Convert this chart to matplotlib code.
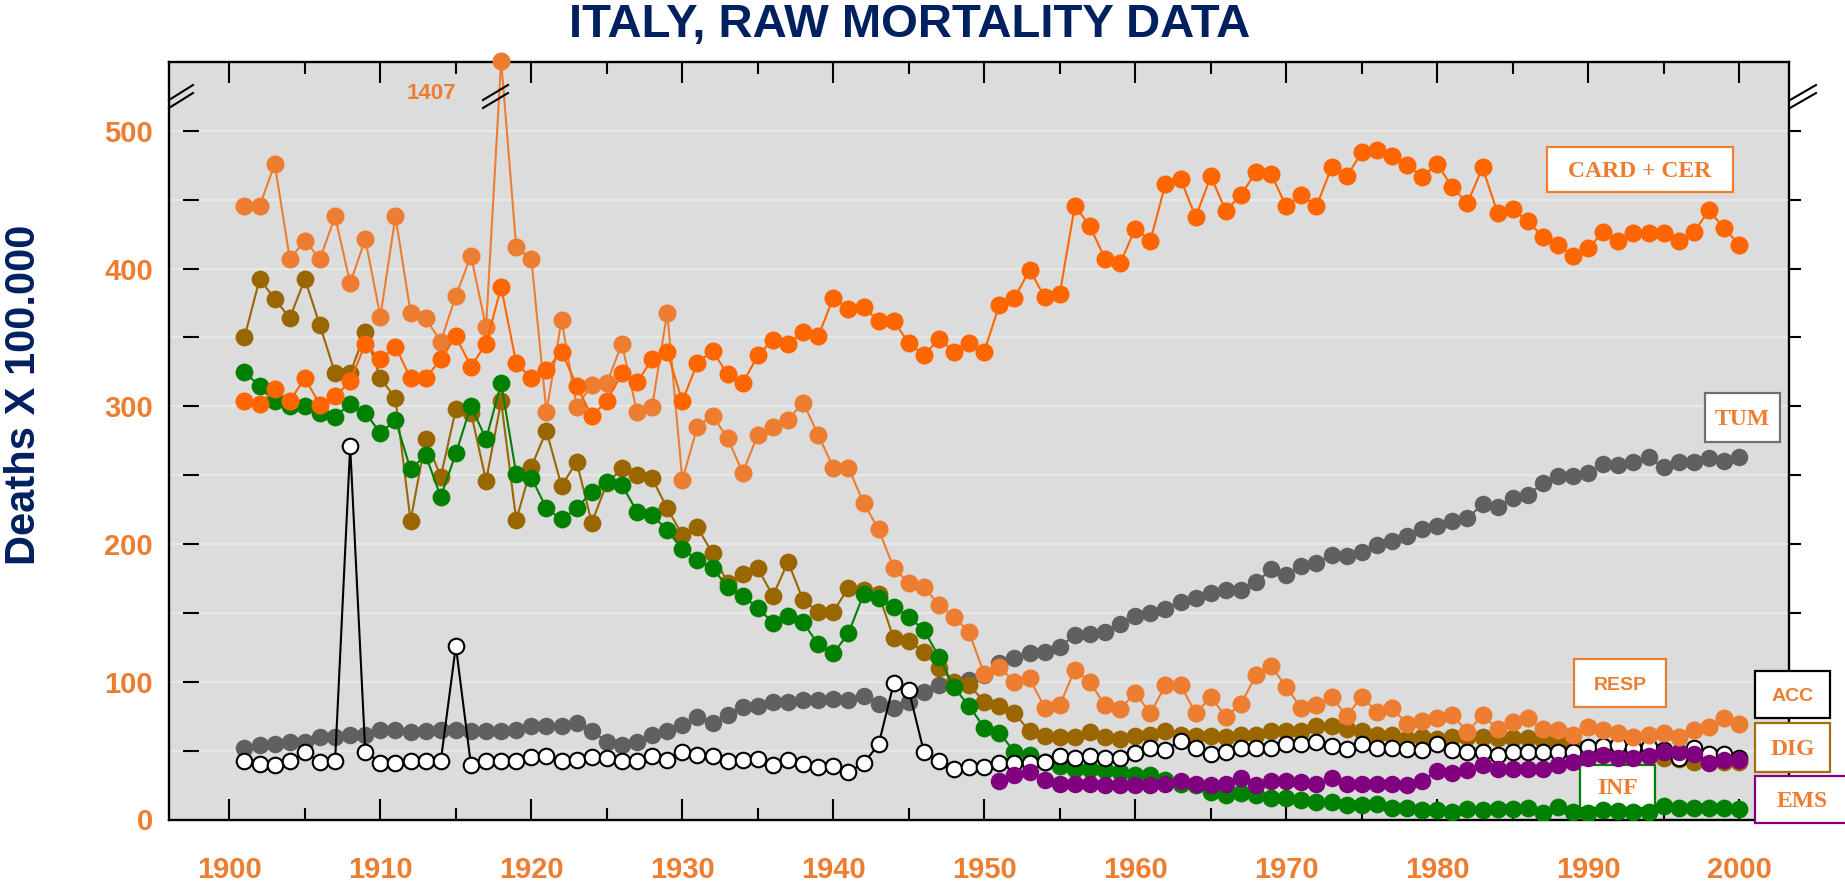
import numpy as np
import matplotlib
matplotlib.use('Agg')
import matplotlib.pyplot as plt
from matplotlib.patches import Rectangle
from matplotlib.lines import Line2D

# ---------------- data ----------------
years = list(range(1901, 2001))
ems_years = list(range(1951, 2001))

card_cer = [303.5, 301.6, 312.5, 304.0, 320.4, 301.1, 307.2, 318.1, 345.4, 334.2,
            343.4, 320.4, 320.4, 334.2, 350.7, 328.9, 345.4, 386.5, 331.3, 320.4,
            326.5, 339.8, 315.1, 293.0,
            303.9, 324.0, 317.5, 334.2, 339.8, 303.5, 331.8, 340.3, 323.3, 316.8,
            336.9, 348.3, 345.4, 353.8, 350.7, 379.0, 370.6, 371.8, 362.1, 362.1,
            345.9, 337.4, 348.8, 339.8, 346.3, 339.8,
            373.7, 378.5, 399.1, 379.3, 381.7, 445.8, 430.6, 407.1, 403.9, 428.9,
            420.2, 461.6, 465.2, 437.4, 466.9, 442.0, 453.6, 470.1, 468.6, 445.2,
            453.6, 445.2, 473.4, 466.9, 484.3, 486.2,
            481.4, 475.4, 466.5, 476.1, 458.9, 447.5, 473.4, 440.4, 443.3, 434.2,
            423.3, 417.3, 409.3, 414.9, 426.5, 419.7, 425.8, 425.8, 425.8, 419.7,
            426.5, 442.2, 429.4, 417.3]

resp = [445.8, 445.1, 476.1, 407.1, 420.2, 407.1, 437.9, 389.4, 421.4, 365.2,
        437.9, 368.1, 363.8, 347.0, 380.2, 409.3, 357.5, 1407, 415.4, 406.9,
        295.7, 362.8, 299.8, 315.5,
        316.8, 345.4, 295.7, 299.8, 368.1, 246.6, 285.3, 293.3, 276.8, 251.9,
        279.3, 285.3, 290.2, 302.7, 279.3, 255.5, 255.5,
        230.0, 210.6, 182.8, 171.4, 169.0, 155.7, 147.2, 135.8, 105.6, 110.9,
        99.5, 102.4, 81.3, 83.0, 108.9, 99.5, 83.0, 79.9, 92.2, 77.0,
        97.6, 97.6, 77.0, 89.1, 74.6, 83.8, 104.8, 111.4, 96.4, 80.6,
        83.0, 89.1, 75.1, 89.1, 78.2, 80.6,
        69.7, 71.7, 73.8, 75.8, 63.7, 75.8, 65.4, 70.5, 73.4, 65.4,
        64.9, 61.3, 67.3, 64.9, 62.5, 60.0, 61.3, 62.5, 60.0, 64.9,
        67.3, 73.4, 69.7]

dig = [350.0, 392.4, 378.1, 364.0, 392.4, 358.7, 324.0, 324.0, 353.6, 320.4,
       305.9, 216.9, 276.1, 248.9, 297.9, 295.5, 246.0, 303.5, 217.4, 256.1,
       282.2, 242.1, 259.8, 215.5,
       244.0, 254.9, 250.1, 247.7, 225.9, 206.5, 212.1, 193.2, 172.0, 178.2,
       182.3, 162.4, 187.1, 159.3, 150.8, 150.8, 168.3, 166.6, 163.7, 131.5,
       129.5, 121.8, 109.7, 100.0, 97.6, 85.5, 82.3, 77.0, 64.2,
       60.8, 60.0, 60.0, 63.7, 59.6, 58.8, 60.5, 61.7, 64.2, 61.3,
       60.5, 60.5, 60.0, 61.3, 61.7, 64.2, 64.2, 64.2, 67.8, 67.8,
       65.4, 64.2, 61.7, 61.3, 58.8, 60.0, 58.8, 60.0,
       60.0, 60.0, 59.0, 59.0, 59.0, 58.0, 56.0, 55.0, 52.0, 50.0,
       49.0, 48.0, 47.0, 45.0, 44.0, 42.0, 42.0, 42.0, 42.0]

inf = [325.2, 314.4, 303.5, 299.9, 300.4, 295.0, 292.6, 301.6, 295.5, 280.5,
       290.2, 254.2, 264.6, 234.3, 265.8, 300.4, 276.1, 316.8, 250.8, 248.2,
       225.9, 217.9, 225.9, 238.0,
       245.2, 242.8, 223.5, 221.0, 210.1, 196.1, 188.4, 182.3, 169.0, 162.4,
       153.7, 142.8, 147.9, 143.1, 127.1, 120.6, 135.1, 163.4, 160.5, 154.5,
       147.2, 137.5, 118.1, 95.9, 82.3, 66.6, 62.9, 49.1, 46.7,
       41.9, 38.7, 37.0, 37.0, 35.8, 34.6, 32.2, 32.2, 28.6, 26.1,
       24.9, 20.1, 17.7, 18.9, 17.7, 15.3, 15.3, 14.0, 12.8, 12.8,
       10.4, 10.4, 11.6, 8.0, 8.0, 6.8, 6.8, 5.6,
       7.3, 6.8, 7.3, 7.3, 8.0, 4.4, 9.2, 5.6, 4.8, 6.8,
       6.3, 5.6, 5.6, 9.7, 8.0, 8.0, 8.0, 8.0, 7.3]

tum = [52.1, 54.0, 54.7, 56.4, 56.4, 59.6, 59.6, 61.7, 61.3, 64.9,
       64.9, 63.7, 64.4, 64.9, 64.9, 64.2, 64.2, 64.2, 64.9, 67.8,
       67.8, 67.8, 70.2, 64.2,
       56.4, 54.0, 56.4, 61.3, 64.2, 68.5, 74.6, 70.2, 75.8, 81.8,
       82.3, 85.0, 85.0, 86.7, 86.7, 87.4, 86.7, 89.6, 83.8, 80.6,
       85.5, 92.7, 97.6, 97.6, 101.2, 105.0,
       113.3, 116.9, 120.6, 121.8, 125.4, 133.9, 134.4, 136.3, 141.9, 147.7,
       150.1, 152.5, 158.1, 161.0, 164.6, 166.6, 166.6, 172.1, 181.6, 177.5,
       184.2, 186.4, 192.0, 191.3, 194.4, 199.2, 202.4, 205.8, 210.7, 213.2,
       216.5,
       218.6, 229.0, 227.1, 233.1, 235.6, 244.0, 249.4, 249.4, 251.8, 258.1,
       257.3, 259.8, 262.9, 255.7, 259.8, 259.8, 262.2, 260.5, 263.4]

acc = [42.4, 40.2, 39.5, 42.4, 48.7, 41.9, 42.4, 271.0, 49.1, 41.2,
       41.2, 42.4, 42.4, 42.4, 125.9, 39.5, 42.4, 42.4, 42.4, 45.5,
       46.0, 42.4, 43.1, 45.5,
       44.3, 42.6, 42.4, 46.0, 43.1, 49.1, 46.7, 46.0, 42.6, 43.1,
       43.6, 39.5, 43.1, 40.2, 37.8, 38.7, 34.6, 40.7, 54.5, 98.8,
       93.9, 49.1, 42.6, 37.0, 37.8, 37.8,
       40.7, 40.7, 41.2, 41.4, 46.0, 44.8, 46.0, 44.8, 44.8, 48.4,
       52.1, 50.8, 56.9, 51.6, 47.9, 49.1, 51.6, 51.6, 51.6, 54.7,
       54.5, 56.4, 53.3, 51.1, 54.5, 51.6, 51.6,
       51.4, 50.6, 54.7, 50.6, 48.7, 49.1, 46.7, 49.1, 49.1, 49.1,
       49.1, 49.1, 52.8, 53.3, 54.0, 51.6, 52.8, 50.8, 45.0, 51.6,
       47.9, 47.9, 44.3]

ems = [28.0, 32.5, 34.6, 28.6, 25.7, 25.7, 25.7, 24.9, 24.9, 24.9,
       24.9, 26.1, 27.8, 26.1, 25.4, 26.1, 29.8, 25.4, 27.8, 27.8,
       27.4, 26.1, 30.3, 26.1, 26.1, 26.1, 26.1, 25.4, 28.2, 35.2,
       34.0,
       35.8, 39.5, 37.0, 37.0, 37.0, 37.0, 39.5, 41.9, 45.0, 46.7,
       44.3, 44.3, 46.0, 49.1, 49.1, 47.5, 40.7, 43.1, 43.1]

x_major = list(range(1900, 2001, 10))
x_minor = list(range(1905, 2001, 10))
y_major = list(range(0, 501, 100))
y_minor = list(range(50, 501, 100))
y_grid = list(range(50, 501, 50))
Y_TOP = 550
BREAK_SHOW = 551

# ---------------- style ----------------
W, H = 1845, 890
SANS = ['Liberation Sans', 'DejaVu Sans']
SERIF = ['Liberation Serif', 'DejaVu Serif']
plt.rcParams['font.family'] = SANS
NAVY = '#002060'
LBL = '#ED7D31'

fig = plt.figure(figsize=(W / 100, H / 100), dpi=100)
ax = fig.add_axes([169 / W, 1 - 819.5 / H, (1789 - 169) / W, (819.5 - 62) / H])
ax.set_facecolor('#DCDCDC')


def fx(x):
    return x / W


def fy(y):
    return 1 - y / H


# grid
for v in y_grid:
    ax.axhline(v, color='#E8E8E8', lw=1.6, zorder=0.5)

ms = 13
ax.plot(years, tum, color='#606060', lw=1.5, marker='o', ms=12.6, mew=0, zorder=3)
ax.plot(years, dig, color='#996600', lw=1.5, marker='o', ms=12.8, mew=0, zorder=4)
ax.plot(years, inf, color='#008000', lw=1.5, marker='o', ms=12.8, mew=0, zorder=5)
ax.plot(years, acc, color='black', lw=1.5, marker='o', ms=11.2, mfc='white',
        mec='black', mew=1.5, zorder=6)
ax.plot(ems_years, ems, color='#800080', lw=1.5, marker='o', ms=12.6, mew=0, zorder=7)
resp_disp = [min(v, BREAK_SHOW) for v in resp]
ax.plot(years, resp_disp, color='#ED7D31', lw=1.5, marker='o', ms=ms, mew=0,
        zorder=8, clip_on=False)
ax.plot(years, card_cer, color='#FF6600', lw=1.5, marker='o', ms=ms, mew=0, zorder=9)

ax.set_xlim(1896.0, 2003.3)
ax.set_ylim(0, Y_TOP)

# ticks
ax.set_xticks(x_major)
ax.set_xticks(x_minor, minor=True)
ax.set_xticklabels([str(v) for v in x_major])
ax.tick_params(axis='x', which='major', direction='in', length=15, width=1.5,
               top=True, bottom=True, pad=26, labelsize=21, labelcolor=LBL)
ax.tick_params(axis='x', which='minor', direction='in', length=8.5, width=1.5,
               top=True, bottom=True)
ax.set_yticks(y_major)
ax.set_yticks(y_minor, minor=True)
ax.set_yticklabels([str(v) for v in y_major])
ax.tick_params(axis='y', which='both', direction='out', length=8.6, width=1.5,
               left=False, right=True, labelleft=True, labelright=False,
               pad=2.9, labelsize=21, labelcolor=LBL)
for lab in ax.get_xticklabels() + ax.get_yticklabels():
    lab.set_fontweight('bold')

# detached left tick marks
for v in y_grid:
    ax.plot([14 / 1620, 30 / 1620], [v, v], transform=ax.get_yaxis_transform(),
            color='black', lw=1.5, solid_capstyle='butt', zorder=2)

for s in ax.spines.values():
    s.set_linewidth(1.7)
    s.set_color('black')

# break marks
def brk(x0, y0, x1, y1):
    fig.add_artist(Line2D([fx(x0), fx(x1)], [fy(y0), fy(y1)], transform=fig.transFigure,
                          color='black', lw=1.5, zorder=20))

for (xa, xb) in [(169, 193), (1790, 1816), (483, 508)]:
    brk(xa, 100, xb, 85)
    brk(xa, 108, xb, 93)

ax.text(1913.4, 527, str(resp[years.index(1918)]), color=LBL, fontsize=16,
        fontweight='bold', ha='center', va='center', zorder=10)

# label boxes
def label_box(text, x0, y0, x1, y1, edge, family, size, z=12):
    r = Rectangle((fx(x0), fy(y1)), (x1 - x0) / W, (y1 - y0) / H, transform=fig.transFigure,
                  facecolor='white', edgecolor=edge, lw=1.6, zorder=z, clip_on=False)
    ax.add_artist(r)
    ax.text(fx((x0 + x1) / 2), fy((y0 + y1) / 2 + 2), text, transform=fig.transFigure,
            ha='center', va='center', color=LBL, fontsize=size, fontweight='bold',
            family=family, zorder=z + 0.1, clip_on=False)

label_box('CARD + CER', 1547, 147, 1733, 192, '#ED7D31', SERIF, 17)
label_box('TUM', 1705, 393, 1780, 442, '#707070', SERIF, 17)
label_box('RESP', 1574, 659, 1666, 707, '#ED7D31', SANS, 14)
label_box('ACC', 1755, 671, 1830, 718, 'black', SANS, 14)
label_box('DIG', 1755, 723, 1830, 772, '#A0700A', SERIF, 17)
label_box('EMS', 1755, 776, 1850, 823, '#800080', SERIF, 17)
label_box('INF', 1580, 765, 1655, 808, '#008000', SERIF, 17, z=2)

fig.text(0.493, fy(25), 'ITALY, RAW MORTALITY DATA', ha='center', va='center',
         fontsize=34, fontweight='bold', color=NAVY)
fig.text(fx(24), fy(395), 'Deaths X 100.000', rotation=90, ha='center', va='center',
         fontsize=30, fontweight='bold', color=NAVY)

fig.savefig('out.png', dpi=100)
